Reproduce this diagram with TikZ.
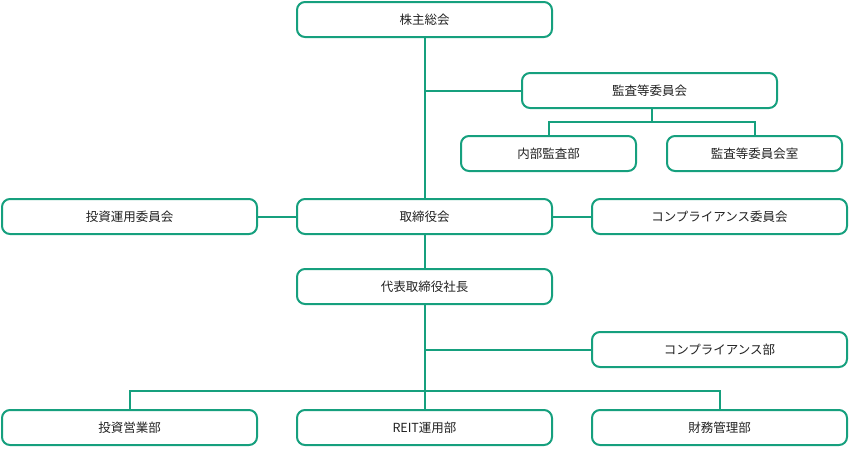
\documentclass[tikz,border=0pt]{standalone}
\usepackage{fontspec}
\newfontfamily\cjk{Noto Sans CJK JP}
\definecolor{teal1}{RGB}{22,160,126}
\definecolor{txt}{RGB}{34,34,34}
\tikzset{
  box/.style={draw=teal1, line width=2pt, rounded corners=8pt, fill=white,
    minimum width=255pt, minimum height=35pt, inner sep=0pt,
    font=\cjk\fontsize{12.5}{14}\selectfont, text=txt},
  sbox/.style={box, minimum width=175pt},
  link/.style={draw=teal1, line width=2pt}
}
\begin{document}
\begin{tikzpicture}[x=1pt,y=-1pt]
\useasboundingbox (0,0) rectangle (850,448);
% connectors first (behind)
\node[box]  (h)    at (424.5,19.5)  {株主総会};
\node[box]  (ac)   at (649.5,90.5)  {監査等委員会};
\node[sbox] (ia)   at (548.5,153.5) {内部監査部};
\node[sbox] (acr)  at (754.5,153.5) {監査等委員会室};
\node[box]  (ic)   at (129.5,216.5) {投資運用委員会};
\node[box]  (bd)   at (424.5,216.5) {取締役会};
\node[box]  (cc)   at (719.5,216.5) {コンプライアンス委員会};
\node[box]  (ceo)  at (424.5,286.5) {代表取締役社長};
\node[box]  (cd)   at (719.5,349.5) {コンプライアンス部};
\node[box]  (ib)   at (129.5,427.5) {投資営業部};
\node[box]  (reit) at (424.5,427.5) {REIT運用部};
\node[box]  (fm)   at (719.5,427.5) {財務管理部};
\path (ac.south) ++(2,13) coordinate (ab);
\path (ac.south) ++(2,0) coordinate (at);
\path (ceo.south) ++(0,86) coordinate (bb);
\draw[link] (h.south) -- (bd.north);
\draw[link] (ac.west) -- (h.south |- ac.west);
\draw[link] (at) -- (ab);
\draw[link] (ab) -| (ia.north);
\draw[link] (ab) -| (acr.north);
\draw[link] (ic.east) -- (bd.west);
\draw[link] (bd.east) -- (cc.west);
\draw[link] (bd.south) -- (ceo.north);
\draw[link] (ceo.south) -- (reit.north);
\draw[link] (cd.west) -- (ceo.south |- cd.west);
\draw[link] (bb) -| (ib.north);
\draw[link] (bb) -| (fm.north);
\end{tikzpicture}
\end{document}
